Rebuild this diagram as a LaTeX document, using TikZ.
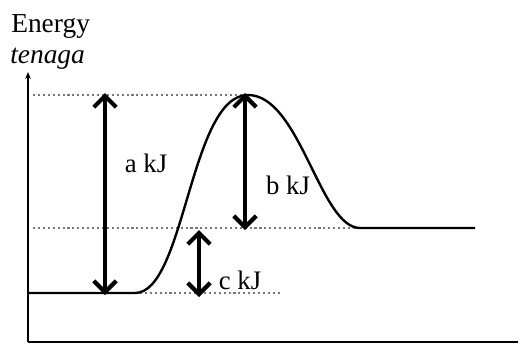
\documentclass[tikz,border=0pt]{standalone}
\usepackage{fontspec}
\setmainfont{Liberation Serif}
\usepackage{tikz}
\usetikzlibrary{arrows.meta, positioning}
\definecolor{mydark}{RGB}{0,0,0}
\definecolor{mydots}{RGB}{120,120,120}
\tikzset{
  axis/.style={line width=1.3pt, color=mydark},
  curve/.style={line width=1.7pt, color=mydark},
  level/.style={dotted, line width=1.5pt, color=mydots},
  gap/.style={{Straight Barb[length=8pt,width=16pt]}-{Straight Barb[length=8pt,width=16pt]},
    line width=3pt, color=mydark},
  lbl/.style={font=\fontsize{19}{22}\selectfont, color=mydark, inner sep=0pt},
  title/.style={font=\fontsize{19.5}{22}\selectfont, color=mydark, inner sep=0pt}
}
\begin{document}
\begin{tikzpicture}[x=0.025cm, y=0.025cm]
  \useasboundingbox (0,0) rectangle (522,344);
  % Axes
  \coordinate (origin) at (28,2);
  \coordinate (ytop) at (28,272);
  \coordinate (xend) at (518,2);
  \draw[axis, -{Stealth[length=5pt,width=4pt]}] (origin) -- (ytop);
  \draw[axis] (origin) -- (xend);
  \node[title, anchor=base west] (energy) at (11,312) {Energy};
  \node[title, anchor=base west] (tenaga) at (10,281) {\itshape tenaga};

  % Energy levels
  \coordinate (r0) at (28,51);
  \coordinate (r1) at (135,51);
  \coordinate (ts) at (248,249);
  \coordinate (p0) at (360,116);
  \coordinate (p1) at (475,116);

  % Dotted guide lines
  \draw[level] (33,249) -- (245,249);
  \draw[level] (33,116) -- (p0);
  \draw[level] (r1) -- (280,51);

  % Reaction profile
  \draw[curve] (r0) -- (r1) .. controls (185,51) and (190,249) .. (ts)
    .. controls (300,249) and (320,116) .. (p0) -- (p1);

  % Energy gaps
  \coordinate (atop) at (105,251);
  \coordinate (abot) at (105,49);
  \coordinate (btop) at (245,251);
  \coordinate (bbot) at (245,114);
  \coordinate (ctop) at (199,114);
  \coordinate (cbot) at (199,47);
  \draw[gap] (abot) -- (atop);
  \draw[gap] (btop) -- (bbot);
  \draw[gap] (ctop) -- (cbot);
  \node[lbl] (alabel) at (146,181) {a kJ};
  \node[lbl] (blabel) at (288,159) {b kJ};
  \node[lbl] (clabel) at (240,64) {c kJ};
\end{tikzpicture}
\end{document}
